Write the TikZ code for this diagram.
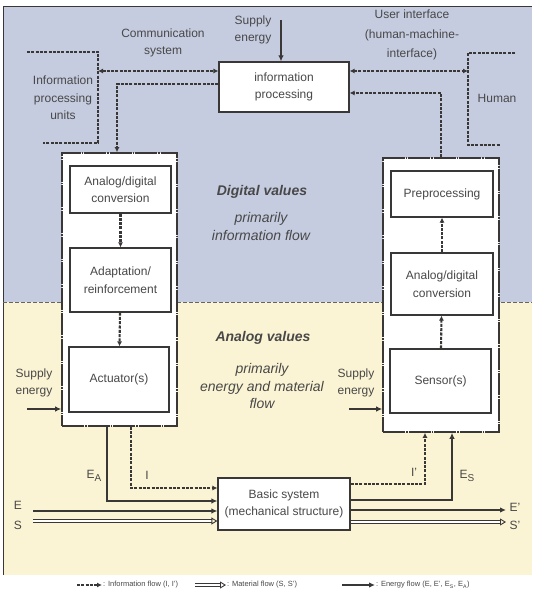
\documentclass[tikz,border=0pt]{standalone}
\usepackage{fontspec}
\setmainfont{Liberation Sans}
\usetikzlibrary{arrows.meta}

\definecolor{ink}{RGB}{58,56,54}
\definecolor{txt}{RGB}{72,72,72}
\definecolor{digitalbg}{RGB}{198,204,224}
\definecolor{analogbg}{RGB}{251,244,212}

\newcommand{\subs}[1]{\raisebox{-2.5pt}{\fontsize{10}{10}\selectfont #1}}

\tikzset{
  block/.style={draw=ink, line width=1.2pt, fill=white, text=txt, align=center, inner sep=2pt},
  bigframe/.style={draw=ink, line width=1.6pt, fill=white, dash pattern=on 22pt off 1pt on 1.5pt off 1pt},
  info/.style={draw=ink, line width=2.1pt, dash pattern=on 3pt off 1.3pt, -{Latex[length=5pt,width=5pt]}},
  infobr/.style={draw=ink, line width=2pt, dash pattern=on 3pt off 1.3pt},
  energy/.style={draw=ink, line width=2.2pt, -{Latex[length=6pt,width=5.5pt]}},
  matflow/.style={draw=ink, line width=0.9pt, double=white, double distance=1.8pt, -{Triangle[open,length=6pt,width=7pt]}},
  lbl/.style={text=txt, align=center},
  area/.style={text=txt, align=center, font=\fontsize{14}{17.5}\selectfont\itshape},
}

\begin{document}
\begin{tikzpicture}[x=1pt, y=-1pt, font=\fontsize{12}{17.5}\selectfont]
\useasboundingbox (0,0) rectangle (532,601);

% Draw the background
\fill[digitalbg] (3,7) rectangle (532,302);
\fill[analogbg] (3,302) rectangle (532,575);
\draw[ink, line width=1pt] (3,575) -- (3,7) -- (532,7);
\draw[ink!70!digitalbg, line width=1pt, dash pattern=on 4pt off 2pt] (3,302) -- (532,302);

% Draw the frames
\node[bigframe, minimum width=115pt, minimum height=273pt] (aframe) at (119.5,289.5) {};
\node[bigframe, minimum width=116pt, minimum height=274pt] (sframe) at (441,295) {};

% Draw the blocks
\node[block, minimum width=130pt, minimum height=50pt] (proc) at (284,87) {information\\processing};
\node[block, minimum width=101pt, minimum height=47pt] (adcA) at (120.5,189.5) {Analog/digital\\conversion};
\node[block, minimum width=101pt, minimum height=64pt] (adapt) at (120.5,280) {Adaptation/\\reinforcement};
\node[block, minimum width=100pt, minimum height=65pt] (act) at (119,379.5) {Actuator(s)};
\node[block, minimum width=102pt, minimum height=46pt] (prep) at (442,194) {Preprocessing};
\node[block, minimum width=102pt, minimum height=62pt] (adcS) at (442,284) {Analog/digital\\conversion};
\node[block, minimum width=101pt, minimum height=64pt] (sens) at (440.5,381) {Sensor(s)};
\node[block, minimum width=132pt, minimum height=52pt] (basic) at (284,504) {Basic system\\(mechanical structure)};

% Draw the brackets
\draw[infobr] (27,52) -| (98,143) -- (43,143);
\draw[infobr] (515,53) -| (468,145) -- (500,145);

% Free ends
\coordinate (units) at (98,71);
\coordinate (human) at (468,71);
\coordinate (supT) at (281,20);
\coordinate (supA) at (27,409);
\coordinate (supS) at (349,409);
\coordinate (Ein) at (33,511);
\coordinate (Sin) at (33,521);
\coordinate (Eout) at (506,510);
\coordinate (Sout) at (506,522);

% Information flow
\draw[info, {Latex[length=5pt,width=5pt]}-{Latex[length=5pt,width=5pt]}] (units) -- (units -| proc.west);
\draw[info, {Latex[length=5pt,width=5pt]}-{Latex[length=5pt,width=5pt]}] (human -| proc.east) -- (human);
\draw[info] ([yshift=3pt]proc.west) -| ([xshift=-2.5pt]aframe.north);
\draw[info] (sframe.north) |- ([yshift=-6pt]proc.east);
\draw[info] (adcA) -- (adapt);
\draw[info] (adapt) -- (act);
\draw[info] (sens) -- (adcS);
\draw[info] (adcS) -- (prep);
\draw[info] ([xshift=11.5pt]aframe.south) |- ([yshift=16pt]basic.west);
\draw[info] ([yshift=20pt]basic.east) -| ([xshift=-16pt]sframe.south);

% Energy and material flow
\draw[energy, line width=2.6pt] (supT) -- (supT |- proc.north);
\draw[energy] (supA) -- (supA -| aframe.west);
\draw[energy] (supS) -- (supS -| sframe.west);
\draw[energy, line width=2.8pt] ([xshift=-12.5pt]aframe.south) |- ([yshift=3pt]basic.west);
\draw[energy] ([yshift=4pt]basic.east) -| ([xshift=11pt]sframe.south);
\draw[energy] (Ein) -- (Ein -| basic.west);
\draw[matflow] (Sin) -- (Sin -| basic.west);
\draw[energy] (Eout -| basic.east) -- (Eout);
\draw[matflow] (Sout -| basic.east) -- (Sout);

% Draw the labels
\node[lbl] (supTl) at (253,30) {Supply\\energy};
\node[lbl] (comm) at (163,43) {Communication\\system};
\node[lbl] (unitsl) at (63,98) {Information\\processing\\units};
\node[lbl, font=\fontsize{12}{19.5}\selectfont] (ui) at (412,35) {User interface\\(human-machine-\\interface)};
\node[lbl] (humanl) at (497,98) {Human};
\node[lbl] (supAl) at (34,383) {Supply\\energy};
\node[lbl] (supSl) at (356,383) {Supply\\energy};
\node[area, font=\fontsize{14}{17.5}\selectfont\bfseries\itshape] (digital) at (262,192) {Digital values};
\node[area] (digitalf) at (261,226.5) {primarily\\information flow};
\node[area, font=\fontsize{14}{17.5}\selectfont\bfseries\itshape] (analog) at (263,338) {Analog values};
\node[area] (analogf) at (262,386) {primarily\\energy and material\\flow};
\node[lbl] at (94,476) {E\subs{A}};
\node[lbl] at (147,475) {I};
\node[lbl] at (18,505) {E};
\node[lbl] at (18,525) {S};
\node[lbl] at (414,472) {I'};
\node[lbl] at (467,476) {E\subs{S}};
\node[lbl] at (515,507) {E'};
\node[lbl] at (515,525) {S'};

% Draw the legend
\begin{scope}[font=\fontsize{7.5}{9}\selectfont]
  \coordinate (lgI) at (77,585);
  \coordinate (lgM) at (195,585);
  \coordinate (lgE) at (342,585);
  \node[lbl, anchor=west, inner sep=1pt] (lgIt) at (102,585) {: Information flow (I, I')};
  \node[lbl, anchor=west, inner sep=1pt] (lgMt) at (226,585) {: Material flow (S, S')};
  \node[lbl, anchor=west, inner sep=1pt] (lgEt) at (375,585) {: Energy flow (E, E', E\textsubscript{S}, E\textsubscript{A})};
  \draw[info, line width=1.6pt] (lgI) -- (lgIt.west);
  \draw[matflow] (lgM) -- (lgMt.west);
  \draw[energy] (lgE) -- (lgEt.west);
\end{scope}

\end{tikzpicture}
\end{document}
